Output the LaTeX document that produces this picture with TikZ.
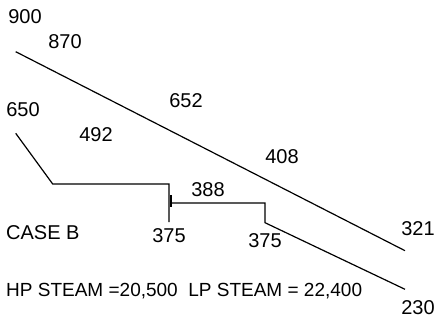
\documentclass[tikz,border=0pt]{standalone}
\usepackage{fontspec}
\setmainfont{Liberation Sans}
\usetikzlibrary{positioning}

\begin{document}
\begin{tikzpicture}[
  x=1pt, y=-1pt,
  font=\fontsize{20}{20}\selectfont,
  temp/.style={inner sep=0pt, anchor=center},
  curve/.style={line width=1.2pt, black, line join=miter},
]
\useasboundingbox (0,0) rectangle (434,321);
% --- HP steam line ---
\coordinate (hpin) at (15.7,51.7);
\coordinate (hpout) at (405,250.7);
\draw[curve] (hpin) -- (hpout);
% --- process stream, first stage ---
\coordinate (psin) at (15.7,133.3);
\coordinate (psa) at (52.7,184);
\coordinate (psb) at (169,184);
\coordinate (psc) at (169,222);
\draw[curve] (psin) -- (psa) -- (psb) -- (psc);
% --- process stream, second stage ---
\coordinate (tkt) at (171,195);
\coordinate (tkb) at (171,207);
\coordinate (qsa) at (171,203);
\coordinate (qsb) at (265,203);
\coordinate (qsc) at (265,222.7);
\coordinate (qsout) at (405,289.3);
\draw[curve] (tkt) -- (tkb);
\draw[curve] (qsa) -- (qsb) -- (qsc) -- (qsout);
% --- temperatures ---
\node[temp] (t900) at (25,17) {900};
\node[temp] (t870) at (65,42) {870};
\node[temp] (t650) at (23,110) {650};
\node[temp] (t652) at (186,101) {652};
\node[temp] (t492) at (96,135) {492};
\node[temp] (t408) at (282,157) {408};
\node[temp] (t388) at (208,190) {388};
\node[temp] (t321) at (418,229) {321};
\node[temp, below=6pt of psc] (t375a) {375};
\node[temp, below=11pt of qsc] (t375b) {375};
\node[temp] (t230) at (418,308) {230};
% --- captions ---
\node[temp, anchor=west] (case) at (6,233) {CASE B};
\node[temp, anchor=west, font=\fontsize{19}{19}\selectfont] (steam) at (6,291)
  {HP STEAM =20,500\ \ LP STEAM = 22,400};
\end{tikzpicture}
\end{document}
